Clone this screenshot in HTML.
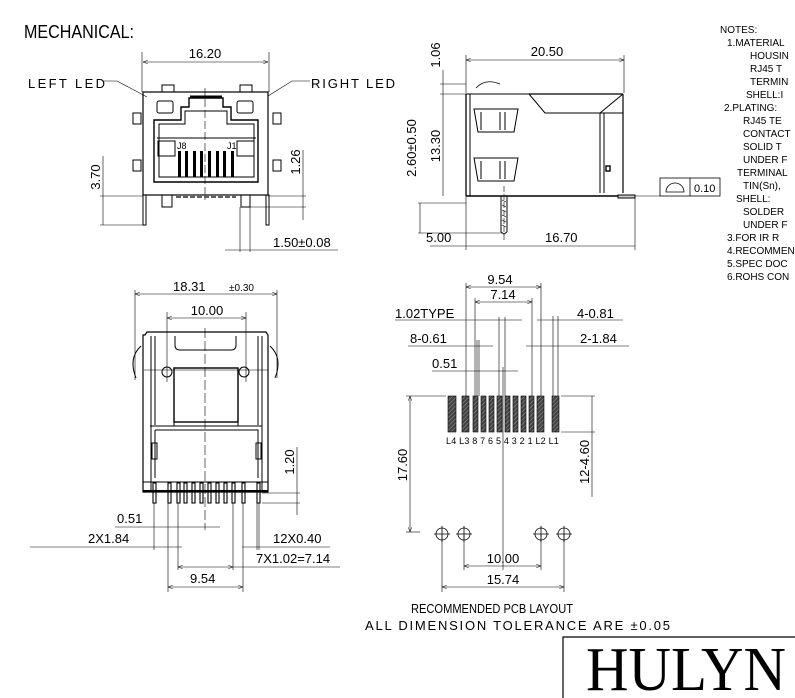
<!DOCTYPE html>
<html><head><meta charset="utf-8"><style>
html,body{margin:0;padding:0;background:#fff;}
svg{display:block;}
text{font-family:"Liberation Sans",sans-serif;fill:#000;}
.t{font-size:13px;}
.n{font-size:10px;}
</style></head><body>
<svg width="795" height="698" viewBox="0 0 795 698" xmlns="http://www.w3.org/2000/svg">
<defs>
<marker id="a" markerWidth="8" markerHeight="6" refX="8" refY="3" orient="auto-start-reverse"><path d="M0,0 L8,3 L0,6" fill="none" stroke="#000" stroke-width="0.8"/></marker>
<pattern id="h" width="3" height="3" patternUnits="userSpaceOnUse" patternTransform="rotate(45)"><rect width="3" height="3" fill="#444"/><line x1="0" y1="0" x2="0" y2="3" stroke="#999" stroke-width="1"/></pattern>
</defs>
<g stroke="#000" fill="none" stroke-width="1">
<text x="24" y="38" style="font-size:18px" stroke="none" textLength="110" lengthAdjust="spacingAndGlyphs">MECHANICAL:</text>

<!-- FRONT VIEW -->
<line x1="142" y1="52" x2="142" y2="92" stroke-width="0.6"/><line x1="269" y1="52" x2="269" y2="92" stroke-width="0.6"/>
<line x1="143" y1="62" x2="268" y2="62" marker-start="url(#a)" marker-end="url(#a)" stroke-width="0.6"/>
<rect x="143" y="92" width="125" height="103" stroke-width="1.2"/>
<rect x="162" y="85" width="12" height="7"/><rect x="240" y="85" width="12" height="7"/>
<rect x="157" y="101" width="16" height="12" rx="2"/><rect x="237" y="101" width="16" height="12" rx="2"/>
<path d="M154,182 L154,120 L181,120 L181,107 L189,107 L189,98 L223,98 L223,107 L231,107 L231,120 L258,120 L258,182 Z" stroke-width="1.4"/>
<path d="M159,177 L159,124 L185,124 L185,111 L227,111 L227,124 L254,124 L254,177 Z"/>
<line x1="190" y1="97" x2="222" y2="97" stroke-width="3"/>
<line x1="157" y1="138" x2="256" y2="138"/>
<rect x="158" y="141" width="17" height="15"/><rect x="237" y="141" width="17" height="15"/>
<g fill="#000" stroke="none">
<rect x="178" y="151" width="3" height="26"/><rect x="185" y="151" width="3" height="26"/><rect x="193" y="151" width="3" height="26"/><rect x="200" y="151" width="3" height="26"/><rect x="208" y="151" width="3" height="26"/><rect x="216" y="151" width="3" height="26"/><rect x="223" y="151" width="3" height="26"/><rect x="231" y="151" width="3" height="26"/>
</g>
<text x="177" y="149" style="font-size:9px" stroke="none">J8</text><text x="227" y="149" style="font-size:9px" stroke="none">J1</text>
<rect x="133" y="113" width="8" height="11"/><rect x="133" y="160" width="8" height="11"/><rect x="273" y="113" width="8" height="11"/><rect x="273" y="160" width="8" height="11"/>
<line x1="205" y1="88" x2="205" y2="200" stroke-dasharray="8,3" stroke-width="0.6"/>
<rect x="143" y="195" width="3" height="30"/><rect x="266" y="195" width="3" height="30"/>
<rect x="162" y="195" width="10" height="12"/><rect x="241" y="195" width="9" height="12"/>
<line x1="240" y1="207" x2="240" y2="252" stroke-width="0.6"/><line x1="250" y1="207" x2="250" y2="252" stroke-width="0.6"/>
<line x1="176" y1="197" x2="236" y2="197" stroke-dasharray="5,2" stroke-width="1.2"/>
<text x="28" y="88" class="t" stroke="none" textLength="77" lengthAdjust="spacing">LEFT LED</text>
<text x="311" y="88" class="t" stroke="none" textLength="84" lengthAdjust="spacing">RIGHT LED</text>
<path d="M104,81 L117,81 L147,97" stroke-width="0.6"/><path d="M310,81 L292,81 L268,96" stroke-width="0.6"/>
<text x="205" y="58" text-anchor="middle" class="t" stroke="none">16.20</text>
<line x1="100" y1="196" x2="143" y2="196" stroke-width="0.6"/><line x1="100" y1="225" x2="143" y2="225" stroke-width="0.6"/>
<line x1="103" y1="156" x2="103" y2="225" stroke-width="0.6"/>
<text transform="translate(100,177) rotate(-90)" text-anchor="middle" class="t" stroke="none">3.70</text>
<line x1="268" y1="196" x2="306" y2="196" stroke-width="0.6"/><line x1="250" y1="207" x2="306" y2="207" stroke-width="0.6"/>
<line x1="303" y1="150" x2="303" y2="220" stroke-width="0.6"/>
<text transform="translate(300,162) rotate(-90)" text-anchor="middle" class="t" stroke="none">1.26</text>
<line x1="225" y1="250" x2="338" y2="250" stroke-width="0.6"/>
<text x="273" y="247" class="t" stroke="none">1.50±0.08</text>

<!-- SIDE VIEW -->
<line x1="466" y1="55" x2="466" y2="93" stroke-width="0.6"/><line x1="624" y1="55" x2="624" y2="93" stroke-width="0.6"/>
<line x1="466" y1="60" x2="624" y2="60" marker-start="url(#a)" marker-end="url(#a)" stroke-width="0.6"/>
<text x="547" y="56" text-anchor="middle" class="t" stroke="none">20.50</text>
<path d="M466,94 L529,94 L545,113 L623,113" /><line x1="529" y1="94" x2="623" y2="94" stroke-width="1.3"/>
<line x1="466" y1="94" x2="466" y2="196" stroke-width="1.3"/>
<line x1="623" y1="94" x2="600" y2="113"/>
<line x1="623" y1="94" x2="623" y2="193" stroke-width="1.2"/><line x1="600" y1="113" x2="600" y2="193"/><line x1="604" y1="113" x2="604" y2="193"/>
<path d="M476,88 Q485,78 500,84" stroke-width="0.8"/>
<line x1="466" y1="196" x2="625" y2="196" stroke-width="1.4"/>
<line x1="470" y1="94" x2="470" y2="196"/>
<path d="M474,109 L518,109 L514,132 L478,132 Z"/><path d="M481,112 L481,130"/><path d="M500,112 L500,130 M505,112 L505,130"/>
<path d="M474,158 L518,158 L514,181 L478,181 Z"/><path d="M481,161 L481,179"/><path d="M500,161 L500,179 M505,161 L505,179"/>
<rect x="606" y="166" width="4" height="5" stroke-width="1.4"/>
<rect x="618" y="195" width="17" height="3" fill="#ccc"/>
<path d="M501,232 L501,196 M507,196 L507,232 M501,232 L504,234 L507,232" stroke-width="1"/>
<path d="M502,200 L506,202 M502,205 L506,207 M502,210 L506,212 M502,215 L506,217 M502,220 L506,222 M502,225 L506,227" stroke-width="0.6"/>
<line x1="504" y1="186" x2="504" y2="240" stroke-width="0.6" stroke-dasharray="6,2"/>
<line x1="440" y1="84" x2="466" y2="84" stroke-width="0.6"/><line x1="440" y1="94" x2="466" y2="94" stroke-width="0.6"/>
<line x1="443" y1="70" x2="443" y2="196" stroke-width="0.6"/>
<text transform="translate(440,55) rotate(-90)" text-anchor="middle" class="t" stroke="none">1.06</text>
<text transform="translate(440,146) rotate(-90)" text-anchor="middle" class="t" stroke="none">13.30</text>
<line x1="418" y1="203" x2="466" y2="203" stroke-width="0.6"/><line x1="418" y1="233" x2="502" y2="233" stroke-width="0.6"/>
<line x1="420" y1="203" x2="420" y2="233" stroke-width="0.6"/>
<text transform="translate(416,148) rotate(-90)" text-anchor="middle" class="t" stroke="none">2.60±0.50</text>
<line x1="466" y1="196" x2="466" y2="250" stroke-width="0.6"/><line x1="635" y1="198" x2="635" y2="250" stroke-width="0.6"/>
<line x1="430" y1="246" x2="635" y2="246" stroke-width="0.6"/>
<text x="426" y="242" class="t" stroke="none">5.00</text><text x="545" y="242" class="t" stroke="none">16.70</text>
<line x1="635" y1="196" x2="660" y2="196" stroke-width="0.6"/>
<rect x="660" y="178" width="60" height="18" stroke-width="0.8"/><line x1="690" y1="178" x2="690" y2="196" stroke-width="0.8"/>
<path d="M666,192 A9,9 0 0 1 684,192 Z" stroke-width="0.8"/>
<text x="694" y="192" class="n" stroke="none" style="font-size:11px">0.10</text>

<!-- NOTES -->
<g stroke="none" class="n">
<text x="720" y="33" class="n">NOTES:</text>
<text x="727" y="46" class="n">1.MATERIAL</text>
<text x="750" y="59" class="n">HOUSIN</text>
<text x="750" y="72" class="n">RJ45 T</text>
<text x="750" y="85" class="n">TERMIN</text>
<text x="746" y="98" class="n">SHELL:I</text>
<text x="724" y="111" class="n">2.PLATING:</text>
<text x="743" y="124" class="n">RJ45 TE</text>
<text x="743" y="137" class="n">CONTACT</text>
<text x="743" y="150" class="n">SOLID T</text>
<text x="743" y="163" class="n">UNDER F</text>
<text x="737" y="176" class="n">TERMINAL</text>
<text x="743" y="189" class="n">TIN(Sn),</text>
<text x="736" y="202" class="n">SHELL:</text>
<text x="743" y="215" class="n">SOLDER</text>
<text x="743" y="228" class="n">UNDER F</text>
<text x="727" y="241" class="n">3.FOR IR R</text>
<text x="727" y="254" class="n">4.RECOMMEN</text>
<text x="727" y="267" class="n">5.SPEC DOC</text>
<text x="727" y="280" class="n">6.ROHS CON</text>
</g>

<!-- BOTTOM LEFT VIEW -->
<line x1="135" y1="290" x2="135" y2="380" stroke-width="0.6"/><line x1="277" y1="290" x2="277" y2="378" stroke-width="0.6"/>
<line x1="135" y1="294" x2="277" y2="294" marker-start="url(#a)" marker-end="url(#a)" stroke-width="0.6"/>
<text x="173" y="291" class="t" stroke="none">18.31</text><text x="229" y="291" stroke="none" style="font-size:10px">±0.30</text>
<line x1="167" y1="312" x2="167" y2="382" stroke-width="0.6"/><line x1="246" y1="312" x2="246" y2="382" stroke-width="0.6"/>
<line x1="167" y1="318" x2="246" y2="318" marker-start="url(#a)" marker-end="url(#a)" stroke-width="0.6"/>
<text x="207" y="315" text-anchor="middle" class="t" stroke="none">10.00</text>
<path d="M145,335 L147,332 L266,332 L268,335 L268,492 L143,492 L143,335 Z" stroke-width="1.2"/>
<line x1="151" y1="336" x2="151" y2="490"/><line x1="262" y1="336" x2="262" y2="490"/>
<line x1="155" y1="336" x2="155" y2="425"/><line x1="258" y1="336" x2="258" y2="425"/>
<path d="M175,336 L175,345 Q175,350 180,350 L231,350 Q236,350 236,345 L236,336"/>
<path d="M141,346 Q128,358 136,378" /><path d="M270,346 Q283,358 275,378"/>
<circle cx="167" cy="372" r="5"/><circle cx="244" cy="372" r="5"/>
<rect x="174" y="368" width="64" height="54" stroke-width="1.4"/>
<line x1="144" y1="370" x2="268" y2="370" stroke-width="0.6"/>
<path d="M174,422 L238,422 L238,426 L174,426 Z" stroke-width="1"/>
<path d="M150,426 L262,426 M155,430 L258,430 L258,478 M155,430 L155,478" />
<rect x="152" y="443" width="5" height="16"/><rect x="256" y="443" width="5" height="16"/>
<line x1="143" y1="482" x2="268" y2="482"/>
<line x1="205" y1="328" x2="205" y2="530" stroke-dasharray="10,3" stroke-width="0.6"/>
<g stroke-width="1.1">
<rect x="153" y="483" width="3" height="20"/><rect x="168" y="483" width="3" height="20"/><rect x="177" y="483" width="3" height="20"/><rect x="184" y="483" width="3" height="20"/><rect x="192" y="483" width="3" height="20"/><rect x="200" y="483" width="3" height="20"/><rect x="208" y="483" width="3" height="20"/><rect x="216" y="483" width="3" height="20"/><rect x="224" y="483" width="3" height="20"/><rect x="232" y="483" width="3" height="20"/><rect x="242" y="483" width="3" height="20"/><rect x="257" y="483" width="3" height="20"/>
</g>
<line x1="143" y1="491" x2="268" y2="491" stroke-width="2"/>
<g stroke-width="0.6">
<line x1="154" y1="503" x2="154" y2="550"/><line x1="168" y1="503" x2="168" y2="592"/><line x1="178" y1="503" x2="178" y2="570"/><line x1="233" y1="503" x2="233" y2="570"/><line x1="243" y1="503" x2="243" y2="592"/><line x1="257" y1="503" x2="257" y2="550"/><line x1="259" y1="503" x2="259" y2="550"/>
<line x1="115" y1="527" x2="220" y2="527"/><line x1="30" y1="547" x2="182" y2="547"/><line x1="242" y1="547" x2="330" y2="547"/>
<line x1="178" y1="567" x2="233" y2="567" marker-start="url(#a)" marker-end="url(#a)"/><line x1="233" y1="567" x2="340" y2="567"/>
<line x1="168" y1="587" x2="243" y2="587" marker-start="url(#a)" marker-end="url(#a)"/>
<line x1="262" y1="493" x2="300" y2="493"/><line x1="262" y1="503" x2="300" y2="503"/><line x1="297" y1="447" x2="297" y2="515"/>
</g>
<text x="117" y="523" class="t" stroke="none">0.51</text>
<text x="88" y="543" class="t" stroke="none">2X1.84</text>
<text x="273" y="543" class="t" stroke="none">12X0.40</text>
<text x="256" y="563" class="t" stroke="none">7X1.02=7.14</text>
<text x="190" y="583" class="t" stroke="none">9.54</text>
<text transform="translate(294,462) rotate(-90)" text-anchor="middle" class="t" stroke="none">1.20</text>

<!-- PCB LAYOUT -->
<g stroke-width="0.6">
<line x1="466" y1="283" x2="466" y2="396"/><line x1="541" y1="283" x2="541" y2="396"/>
<line x1="466" y1="287" x2="541" y2="287" marker-start="url(#a)" marker-end="url(#a)"/>
<line x1="475" y1="298" x2="475" y2="396"/><line x1="532" y1="298" x2="532" y2="396"/>
<line x1="475" y1="302" x2="532" y2="302" marker-start="url(#a)" marker-end="url(#a)"/>
<line x1="395" y1="320" x2="522" y2="320"/><line x1="537" y1="320" x2="623" y2="320"/>
<line x1="408" y1="346" x2="493" y2="346"/><line x1="526" y1="346" x2="629" y2="346"/>
<line x1="432" y1="371" x2="518" y2="371"/>
<line x1="499" y1="317" x2="499" y2="396"/><line x1="505" y1="317" x2="505" y2="396"/>
<line x1="477" y1="340" x2="477" y2="396"/><line x1="479" y1="340" x2="479" y2="396"/>
<line x1="553" y1="316" x2="553" y2="396"/><line x1="558" y1="316" x2="558" y2="396"/>
<line x1="503" y1="367" x2="503" y2="570"/>
<line x1="406" y1="396" x2="446" y2="396"/><line x1="406" y1="532" x2="420" y2="532"/>
<line x1="410" y1="396" x2="410" y2="532" marker-start="url(#a)" marker-end="url(#a)"/>
<line x1="561" y1="396" x2="595" y2="396"/><line x1="561" y1="432" x2="595" y2="432"/>
<line x1="592" y1="396" x2="592" y2="497"/>
<line x1="442" y1="534" x2="442" y2="592"/><line x1="464" y1="534" x2="464" y2="570"/><line x1="541" y1="534" x2="541" y2="570"/><line x1="564" y1="534" x2="564" y2="592"/>
<line x1="464" y1="566" x2="541" y2="566" marker-start="url(#a)" marker-end="url(#a)"/>
<line x1="442" y1="587" x2="564" y2="587" marker-start="url(#a)" marker-end="url(#a)"/>
</g>
<g fill="url(#h)" stroke="#000" stroke-width="0.6">
<rect x="448" y="396" width="8" height="36"/><rect x="462" y="396" width="7" height="36"/>
<rect x="473" y="396" width="5" height="36"/><rect x="481" y="396" width="5" height="36"/><rect x="489" y="396" width="5" height="36"/><rect x="497" y="396" width="5" height="36"/><rect x="505" y="396" width="5" height="36"/><rect x="513" y="396" width="5" height="36"/><rect x="521" y="396" width="5" height="36"/><rect x="529" y="396" width="5" height="36"/>
<rect x="537" y="396" width="7" height="36"/><rect x="552" y="396" width="7" height="36"/>
</g>
<text x="446" y="444" stroke="none" style="font-size:9px;letter-spacing:0.2px">L4 L3 8 7 6 5 4 3 2 1 L2  L1</text>
<g stroke-width="0.8">
<circle cx="442" cy="534" r="6"/><circle cx="464" cy="534" r="6"/><circle cx="541" cy="534" r="6"/><circle cx="564" cy="534" r="6"/>
<path d="M434,534 H450 M442,526 V542 M456,534 H472 M464,526 V542 M533,534 H549 M541,526 V542 M556,534 H572 M564,526 V542"/>
</g>
<text x="500" y="284" text-anchor="middle" class="t" stroke="none">9.54</text>
<text x="503" y="299" text-anchor="middle" class="t" stroke="none">7.14</text>
<text x="395" y="318" class="t" stroke="none">1.02TYPE</text>
<text x="410" y="343" class="t" stroke="none">8-0.61</text>
<text x="432" y="368" class="t" stroke="none">0.51</text>
<text x="577" y="318" class="t" stroke="none">4-0.81</text>
<text x="580" y="343" class="t" stroke="none">2-1.84</text>
<text transform="translate(407,465) rotate(-90)" text-anchor="middle" class="t" stroke="none">17.60</text>
<text transform="translate(589,462) rotate(-90)" text-anchor="middle" class="t" stroke="none">12-4.60</text>
<text x="503" y="563" text-anchor="middle" class="t" stroke="none">10.00</text>
<text x="503" y="584" text-anchor="middle" class="t" stroke="none">15.74</text>

<text x="411" y="613" class="t" stroke="none" textLength="162" lengthAdjust="spacingAndGlyphs">RECOMMENDED PCB LAYOUT</text>
<text x="365" y="630" class="t" stroke="none" textLength="305" lengthAdjust="spacing">ALL DIMENSION TOLERANCE ARE ±0.05</text>

<path d="M563,698 L563,637 L795,637" stroke-width="1.2"/>
<text x="586" y="690" stroke="none" style="font-family:'Liberation Serif',serif;font-size:62px" textLength="200" lengthAdjust="spacingAndGlyphs">HULYN</text>
</g>
</svg>
</body></html>
